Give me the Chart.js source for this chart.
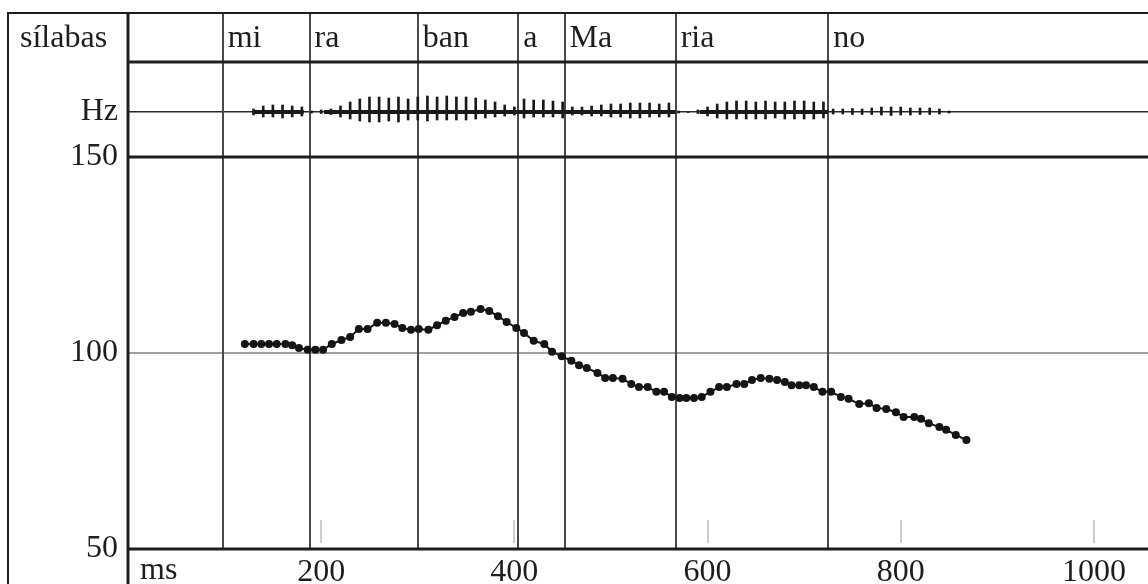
<!DOCTYPE html>
<html>
<head>
<meta charset="utf-8">
<script src="https://cdn.jsdelivr.net/npm/chart.js@4"></script>
<style>
  html, body { margin: 0; padding: 0; background: #fff; }
  #wrap { width: 1148px; height: 584px; }
</style>
</head>
<body>
<div id="wrap"><canvas id="pitch" width="1148" height="584"></canvas></div>
<script>
// syllable tier
const syllables = ['mi', 'ra', 'ban', 'a', 'Ma', 'ria', 'no'];
const syllableStarts = [98, 188, 300, 404, 452, 567, 725];

// F0 track (ms, Hz)
const pitchTimes = [121,130,138,146,154,163,170,177,186,194,202,211,221,230,239,248,258,267,276,284,
  293,301,311,320,329,338,347,355,365,374,383,392,402,410,420,431,439,449,459,467,
  475,486,494,502,512,521,529,538,547,555,563,571,578,586,594,603,612,620,630,638,
  646,655,664,672,680,687,695,702,710,719,728,738,746,757,767,775,785,795,803,814,
  821,829,840,847,857,868];
const pitchHz = [102.3,102.3,102.3,102.3,102.3,102.3,102.0,101.3,100.8,100.8,100.8,102.3,103.3,104.1,106.1,106.1,107.7,107.7,107.4,106.4,
  105.9,106.1,105.9,107.1,108.2,109.2,110.2,110.5,111.2,110.7,109.4,107.9,106.4,105.1,103.1,102.3,100.3,99.2,98.0,96.9,
  96.2,94.9,93.6,93.6,93.4,92.1,91.3,91.3,90.1,90.1,88.8,88.5,88.5,88.5,88.8,90.1,91.3,91.3,92.1,92.1,
  93.1,93.6,93.4,93.1,92.6,91.8,91.8,91.8,91.3,90.1,90.1,88.8,88.3,87.0,87.2,86.0,85.7,84.9,83.7,83.7,
  83.2,82.1,81.1,80.4,79.1,77.8];

// oscillogram: pulse envelope (ms, relative amplitude)
const waveTimes = [130,140,150,160,170,180,190,200,210,220,230,240,250,260,270,280,290,300,310,320,
  330,340,350,360,370,380,390,400,410,420,430,440,450,460,470,480,490,500,510,520,
  530,540,550,560,570,580,590,600,610,620,630,640,650,660,670,680,690,700,710,720,
  730,740,750,760,770,780,790,800,810,820,830,840,850];
const waveHigh = [.06,.12,.14,.14,.12,.10,.02,.04,.06,.12,.20,.26,.30,.30,.28,.30,.26,.30,.32,.30,
  .32,.30,.30,.28,.24,.20,.14,.10,.26,.24,.24,.22,.20,.10,.10,.12,.14,.16,.16,.18,
  .18,.18,.16,.18,.02,.01,.04,.10,.16,.20,.22,.22,.20,.22,.20,.20,.22,.22,.20,.20,
  .06,.06,.07,.06,.08,.10,.10,.10,.08,.08,.08,.06,.02];
const waveLow = [-.06,-.10,-.10,-.12,-.10,-.08,-.02,-.03,-.05,-.10,-.14,-.18,-.20,-.20,-.18,-.20,-.16,-.16,-.18,-.16,
  -.16,-.16,-.16,-.14,-.12,-.10,-.08,-.06,-.12,-.10,-.10,-.10,-.12,-.06,-.06,-.08,-.08,-.10,-.10,-.12,
  -.12,-.10,-.10,-.10,-.02,-.01,-.03,-.08,-.12,-.14,-.14,-.14,-.14,-.14,-.12,-.14,-.14,-.14,-.14,-.12,
  -.04,-.04,-.05,-.05,-.05,-.06,-.07,-.06,-.06,-.05,-.05,-.04,-.02];
// voiced stretches (dense core of the waveform)
const voicedOn = [129, 203, 592];
const voicedOff = [182, 567, 725];

const timeTicks = [0, 200, 400, 600, 800, 1000];
const hzTicks = [50, 100, 150];

const FONT = 'Liberation Serif';
const INK = '#1e1e1e';

const coreData = [];
voicedOn.forEach((t, i) => {
  coreData.push({ x: t, y: 0 }, { x: voicedOff[i], y: 0 }, { x: voicedOff[i], y: null });
});

const framePlugin = {
  id: 'frame',
  beforeDatasetsDraw(chart) {
    const { ctx, scales } = chart;
    const x = scales.x, y = scales.y;
    ctx.save();
    // syllable boundaries
    ctx.strokeStyle = '#4a4a4a';
    ctx.lineWidth = 2;
    syllableStarts.forEach(t => {
      const px = Math.round(x.getPixelForValue(t));
      ctx.beginPath();
      ctx.moveTo(px, 13);
      ctx.lineTo(px, y.bottom);
      ctx.stroke();
    });
    // little time marks above the bottom line
    ctx.strokeStyle = '#cdcdcd';
    timeTicks.slice(1).forEach(t => {
      const px = Math.round(x.getPixelForValue(t));
      ctx.beginPath();
      ctx.moveTo(px, y.bottom - 29);
      ctx.lineTo(px, y.bottom - 6);
      ctx.stroke();
    });
    ctx.restore();
  },
  afterDraw(chart) {
    const { ctx, chartArea, scales, width, height } = chart;
    const x = scales.x, y = scales.y;
    ctx.save();
    ctx.strokeStyle = INK;
    // outer frame
    ctx.lineWidth = 2;
    ctx.beginPath();
    ctx.moveTo(8, height); ctx.lineTo(8, 13); ctx.lineTo(width, 13);
    ctx.stroke();
    // thick rules
    ctx.lineWidth = 3;
    ctx.beginPath();
    ctx.moveTo(chartArea.left, 13); ctx.lineTo(chartArea.left, height);
    [chartArea.top, y.top, y.bottom].forEach(py => {
      ctx.moveTo(chartArea.left, py); ctx.lineTo(width, py);
    });
    ctx.stroke();
    // texts
    ctx.fillStyle = INK;
    ctx.font = '32px "' + FONT + '"';
    ctx.textBaseline = 'alphabetic';
    ctx.textAlign = 'left';
    ctx.fillText('sílabas', 20, 47);
    syllables.forEach((s, i) => {
      ctx.fillText(s, x.getPixelForValue(syllableStarts[i]) + 5, 47);
    });
    ctx.fillText('ms', chartArea.left + 12, 579);
    ctx.restore();
  }
};

new Chart(document.getElementById('pitch'), {
  type: 'line',
  data: {
    datasets: [
      {
        type: 'bar',
        data: waveTimes.map((t, i) => ({ x: t, y: [waveLow[i], waveHigh[i]] })),
        yAxisID: 'yWave',
        backgroundColor: '#1a1a1a',
        barThickness: 2
      },
      {
        type: 'line',
        data: coreData,
        yAxisID: 'yWave',
        borderColor: '#1a1a1a',
        borderWidth: 4,
        pointRadius: 0,
        spanGaps: false
      },
      {
        type: 'line',
        data: pitchTimes.map((t, i) => ({ x: t, y: pitchHz[i] })),
        yAxisID: 'y',
        borderColor: '#151515',
        borderWidth: 2,
        pointRadius: 4,
        pointBackgroundColor: '#151515',
        pointBorderWidth: 0,
        tension: 0
      }
    ]
  },
  options: {
    responsive: false,
    animation: false,
    layout: { autoPadding: false, padding: { left: 8, top: 62, right: 0, bottom: 0 } },
    plugins: { legend: { display: false }, tooltip: { enabled: false } },
    scales: {
      x: {
        type: 'linear',
        min: 0,
        max: 1056,
        offset: false,
        afterBuildTicks: s => { s.ticks = timeTicks.map(v => ({ value: v })); },
        afterFit: s => { s.height = 35; s.paddingLeft = 0; s.paddingRight = 0; },
        grid: { display: false },
        border: { display: false },
        ticks: {
          autoSkip: false,
          maxRotation: 0,
          padding: -4,
          color: INK,
          font: { family: FONT, size: 32 },
          callback: v => v === 0 ? '' : v
        }
      },
      y: {
        type: 'linear',
        position: 'left',
        stack: 'left',
        stackWeight: 392,
        min: 50,
        max: 150,
        afterBuildTicks: s => { s.ticks = hzTicks.map(v => ({ value: v })); },
        afterFit: s => { s.width = 120; },
        border: { display: false },
        grid: {
          drawTicks: false,
          lineWidth: 2,
          color: c => c.tick && c.tick.value === 100 ? '#a0a0a0' : 'rgba(0,0,0,0)'
        },
        ticks: {
          padding: 10,
          color: INK,
          font: { family: FONT, size: 32 }
        }
      },
      yWave: {
        type: 'linear',
        position: 'left',
        stack: 'left',
        stackWeight: 95,
        min: -0.9,
        max: 1.0,
        afterBuildTicks: s => { s.ticks = [{ value: 0 }]; },
        afterFit: s => { s.width = 120; },
        border: { display: false },
        grid: { color: '#2a2a2a', lineWidth: 1.5, drawTicks: false },
        ticks: {
          padding: 10,
          color: INK,
          font: { family: FONT, size: 32 },
          callback: () => 'Hz'
        }
      }
    }
  },
  plugins: [framePlugin]
});
</script>
</body>
</html>
